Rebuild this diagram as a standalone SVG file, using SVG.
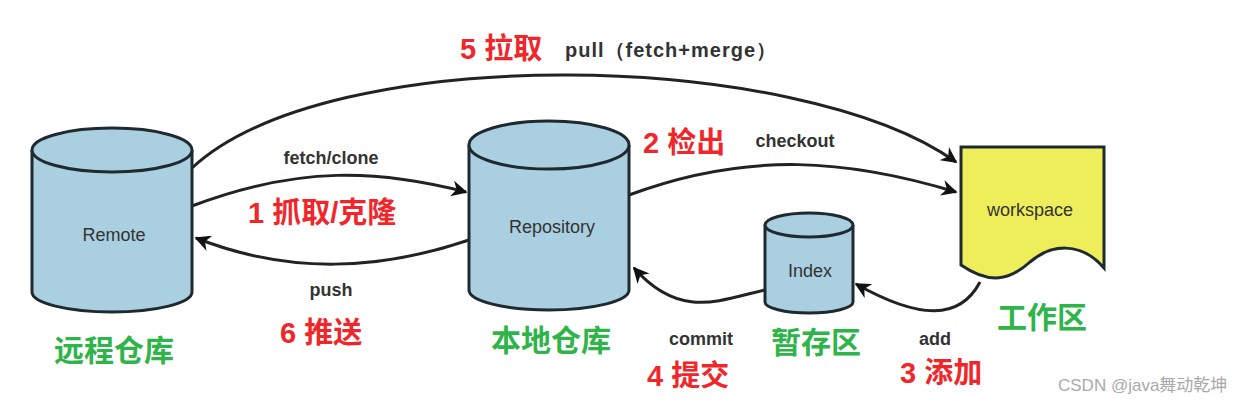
<svg xmlns="http://www.w3.org/2000/svg" width="1256" height="404" viewBox="0 0 1256 404">
<style>
.cyl{fill:#a9cfe0;stroke:#1f2a30;stroke-width:3}
.lbl{font-family:"Liberation Sans",Arial,sans-serif;font-size:18px;fill:#333;text-anchor:middle}
.en{font-family:"Liberation Sans",Arial,sans-serif;font-size:18px;font-weight:bold;fill:#333;text-anchor:middle}
.red{font-family:"Liberation Sans","Noto Sans CJK SC",sans-serif;font-size:29px;font-weight:bold;fill:#f0262a}
.grn{font-family:"Noto Sans CJK SC",sans-serif;font-size:30px;font-weight:bold;fill:#2fb44a;text-anchor:middle}
.con{fill:none;stroke:#222;stroke-width:3}
</style>
<defs>
<marker id="ah" viewBox="0 0 10 10" refX="9" refY="5" markerWidth="16" markerHeight="16" markerUnits="userSpaceOnUse" orient="auto">
<path d="M0,0 L10,5 L0,10 L3,5 z" fill="#111"/>
</marker>
</defs>
<rect width="1256" height="404" fill="#fff"/>
<g id="connectors">
<path class="con" d="M192,168 C330,40 800,50 956,162" marker-end="url(#ah)"/>
<path class="con" d="M192,206 C300,165 380,170 466,192" marker-end="url(#ah)"/>
<path class="con" d="M469,240 C380,270 290,275 196,238" marker-end="url(#ah)"/>
<path class="con" d="M629,195 C750,150 850,160 956,192" marker-end="url(#ah)"/>
<path class="con" d="M765,290 C720,300 680,320 634,268" marker-end="url(#ah)"/>
<path class="con" d="M980,282 C960,320 920,320 856,284" marker-end="url(#ah)"/>
</g>
<g id="remote">
<path class="cyl" d="M32,150 L32,292 A80,20 0 0 0 192,292 L192,150"/>
<ellipse class="cyl" cx="112" cy="150" rx="80" ry="22"/>
<text class="lbl" x="114" y="241">Remote</text>
</g>
<g id="repository">
<path class="cyl" d="M469,145 L469,290 A80,20 0 0 0 629,290 L629,145"/>
<ellipse class="cyl" cx="549" cy="145" rx="80" ry="24"/>
<text class="lbl" x="552" y="233">Repository</text>
</g>
<g id="index">
<path class="cyl" d="M765,225 L765,302 A44,11 0 0 0 853,302 L853,225"/>
<ellipse class="cyl" cx="809" cy="225" rx="44" ry="12"/>
<text class="lbl" x="810" y="277">Index</text>
</g>
<g id="workspace">
<path d="M961,147 L1104,147 L1104,268 C1080,240 1050,245 1030,262 C1010,280 990,285 961,265 Z" fill="#eeee5a" stroke="#1f2a30" stroke-width="3"/>
<text class="lbl" x="1030" y="216">workspace</text>
</g>
<g id="labels">
<text class="red" x="460" y="59">5 拉取</text>
<text class="en" x="565" y="57" style="font-size:20px;text-anchor:start;letter-spacing:1px">pull（fetch+merge）</text>
<text class="en" x="331" y="164">fetch/clone</text>
<text class="red" x="248" y="223">1 抓取/克隆</text>
<text class="en" x="331" y="296">push</text>
<text class="red" x="280" y="343">6 推送</text>
<text class="red" x="643" y="153">2 检出</text>
<text class="en" x="795" y="147">checkout</text>
<text class="en" x="701" y="345">commit</text>
<text class="red" x="647" y="386">4 提交</text>
<text class="en" x="935" y="345">add</text>
<text class="red" x="900" y="383">3 添加</text>
<text class="grn" x="114" y="361">远程仓库</text>
<text class="grn" x="551" y="351">本地仓库</text>
<text class="grn" x="816" y="353">暂存区</text>
<text class="grn" x="1042" y="328">工作区</text>
<text x="1058" y="391" style="font-family:'Liberation Sans','Noto Sans CJK SC',sans-serif;font-size:17px;fill:#aaa">CSDN @java舞动乾坤</text>
</g>
</svg>
